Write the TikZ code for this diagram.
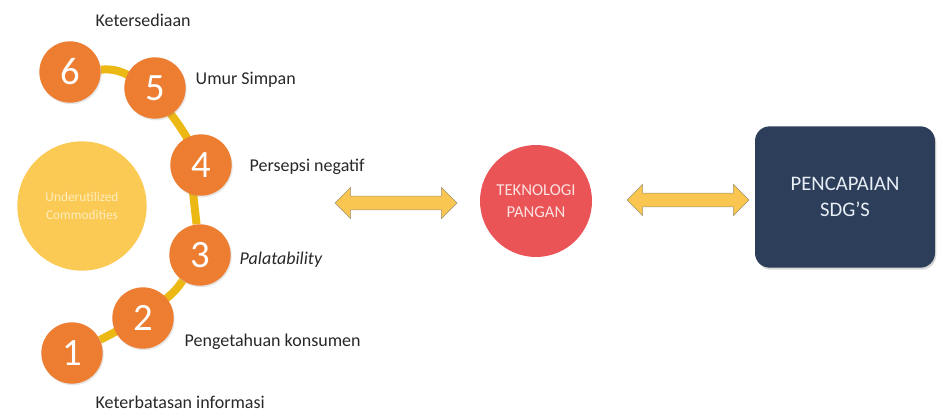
\documentclass[tikz,border=0pt]{standalone}
\usepackage{fontspec}
\setmainfont{Carlito}
\usepackage{xcolor}
\usetikzlibrary{arrows.meta,shapes.arrows,backgrounds,shadows}

\definecolor{stepOrange}{RGB}{237,125,49}
\definecolor{pathGold}{RGB}{236,184,20}
\definecolor{commYellow}{RGB}{251,202,84}
\definecolor{arrowYellow}{RGB}{250,198,82}
\definecolor{arrowEdge}{RGB}{160,145,110}
\definecolor{techRed}{RGB}{234,84,86}
\definecolor{sdgNavy}{RGB}{44,62,90}
\definecolor{labelGray}{RGB}{40,40,40}

\begin{document}
\begin{tikzpicture}[x=0.75pt,y=-0.75pt]
        \useasboundingbox (0,0) rectangle (937,413);

        \begin{scope}[every node/.style = {circle, fill=stepOrange, text=white, inner sep=0pt,
                        minimum size=46pt, font=\fontsize{29}{29}\selectfont,
                        drop shadow={opacity=0.2, shadow xshift=0.8pt, shadow yshift=-1.2pt}}]
            \node (S6) at (70, 72)   {6};
            \node (S5) at (155, 88)  {5};
            \node (S4) at (201, 165) {4};
            \node (S3) at (200, 255) {3};
            \node (S2) at (143, 318) {2};
            \node (S1) at (72, 353)  {1};
        \end{scope}

        \begin{scope}[on background layer]
            \draw [pathGold, line width=6pt]
                (S6) to[bend left=15] (S5) to[bend left=12] (S4) -- (S3)
                     to[bend left=8] (S2) to[bend left=5] (S1);
        \end{scope}

        \node (UC) at (82, 206) [circle, fill=commYellow, minimum size=97pt, inner sep=0pt,
            align=center, text={rgb,255:red,255;green,236;blue,190},
            font=\fontsize{10}{13}\selectfont] {Underutilized\\Commodities};

        \begin{scope}[every node/.style={anchor=west, text=labelGray,
                        font=\fontsize{13.5}{16}\selectfont}]
            \node (L6) at (91, 20)   {Ketersediaan};
            \node (L5) at (191, 80)  {Umur Simpan};
            \node (L4) at (245, 167) {Persepsi negatif};
            \node (L3) at (235, 260) {\itshape Palatability};
            \node (L2) at (180, 342) {Pengetahuan konsumen};
            \node (L1) at (91, 402)  {Keterbatasan informasi};
        \end{scope}

        \node (TP) at (536, 201) [circle, fill=techRed, minimum size=84pt, inner sep=0pt,
            align=center, text={rgb,255:red,252;green,225;blue,225},
            font=\fontsize{12.5}{16}\selectfont] {TEKNOLOGI\\PANGAN};

        \node (SDG) at (845, 197) [rectangle, rounded corners=11pt, fill=sdgNavy,
            minimum width=135pt, minimum height=106pt, align=center,
            text={rgb,255:red,232;green,238;blue,245},
            font=\fontsize{15.5}{20}\selectfont,
            drop shadow={opacity=0.3, shadow xshift=1pt, shadow yshift=-1.5pt}] {PENCAPAIAN\\SDG'S};

        \begin{scope}[every node/.style={double arrow, fill=arrowYellow, draw=arrowEdge,
                        line width=0.4pt, inner sep=4.9pt, minimum width=23pt,
                        minimum height=91.5pt, double arrow head extend=6.6pt}]
            \node (A1) at (396, 203) {};
            \node (A2) at (688, 200) {};
        \end{scope}
\end{tikzpicture}
\end{document}
